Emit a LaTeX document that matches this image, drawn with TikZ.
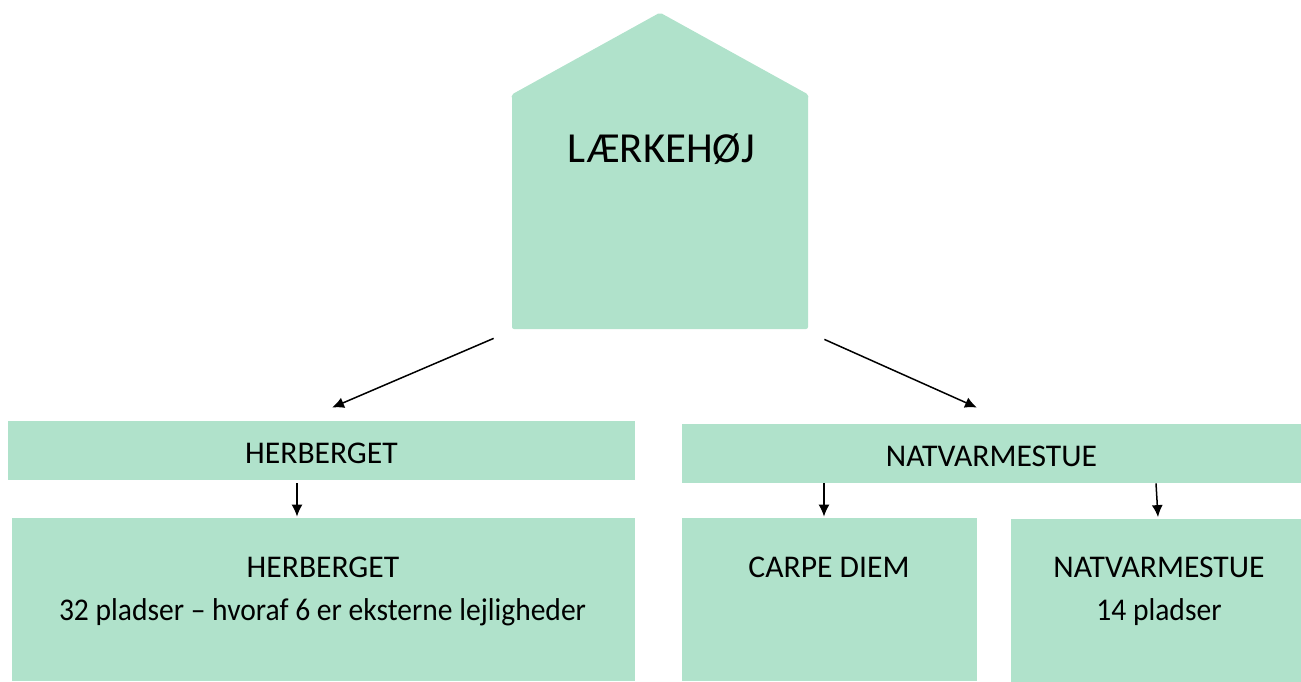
\documentclass[tikz,border=0pt]{standalone}
\usepackage{fontspec}
\setmainfont{Carlito}
\usetikzlibrary{arrows.meta}
\definecolor{mint}{RGB}{176,226,203}
\tikzset{org/.cd,
         fill/.style={fill=mint,draw=none},
         house/.style={org/fill,rectangle,rounded corners=1pt,inner sep=0pt,
                       minimum width=148pt,minimum height=117pt},
         bar/.style={org/fill,rectangle,inner sep=0pt,minimum height=29.5pt,
                     text height=12.5pt,text depth=0pt,font=\fontsize{15.8}{19}\selectfont},
         box/.style={org/fill,rectangle,inner sep=0pt,minimum height=81.5pt},
         title/.style={anchor=base,inner sep=0pt,font=\fontsize{21.4}{26}\selectfont},
         label/.style={anchor=base,inner sep=0pt,font=\fontsize{15.8}{19}\selectfont},
         small/.style={org/label,font=\fontsize{15.8}{19}\selectfont\addfontfeatures{FakeStretch=0.935}},
         arrow/.style={line width=0.75pt,-{Latex[length=6pt,width=5.5pt]}}}

\begin{document}
\begin{tikzpicture}[x=0.5pt,y=-0.5pt]
\useasboundingbox (0,0) rectangle (1301,681);
\node[org/house] (house) at (660,212) {};
\fill[org/fill,rounded corners=1pt] (house.north west) -- ([yshift=41pt]house.north)
     -- (house.north east) -- ([yshift=-2pt]house.north east)
     -- ([yshift=-2pt]house.north west) -- cycle;
\node[org/title] (name) at (661.5,162) {LÆRKEHØJ};
\node[org/bar,minimum width=313.5pt] (herbbar) at (321.5,450.5) {HERBERGET};
\node[org/bar,minimum width=309.5pt] (natvbar) at (991.5,453.5) {NATVARMESTUE};
\node[org/box,minimum width=311.5pt] (herbbox) at (323.5,599.5) {};
\node[org/box,minimum width=147.5pt] (carpebox) at (829.5,599.5) {};
\node[org/box,minimum width=145pt] (natvbox) at (1156,600) {};
\node[org/label] (herbname) at (323,577) {HERBERGET};
\node[org/small] (herbtext) at (322.5,620) {32 pladser -- hvoraf 6 er eksterne lejligheder};
\node[org/label] (carpename) at (829,577) {CARPE DIEM};
\node[org/label] (natvname) at (1159,577) {NATVARMESTUE};
\node[org/small] (natvtext) at (1159,620) {14 pladser};
\draw[org/arrow] ([xshift=-9pt,yshift=-4.5pt]house.south west) -- ([xshift=5.25pt,yshift=6.5pt]herbbar.north);
\draw[org/arrow] ([xshift=8pt,yshift=-5pt]house.south east) -- ([xshift=-7.25pt,yshift=8pt]natvbar.north);
\draw[org/arrow] ([xshift=-12.25pt,yshift=-1.5pt]herbbar.south) -- ([xshift=-13.25pt,yshift=0.5pt]herbbox.north);
\draw[org/arrow] ([xshift=-83.75pt]natvbar.south) -- ([xshift=-2.75pt,yshift=0.5pt]carpebox.north);
\draw[org/arrow] ([xshift=82.25pt]natvbar.south) -- ([xshift=1pt,yshift=0.5pt]natvbox.north);
\end{tikzpicture}
\end{document}
